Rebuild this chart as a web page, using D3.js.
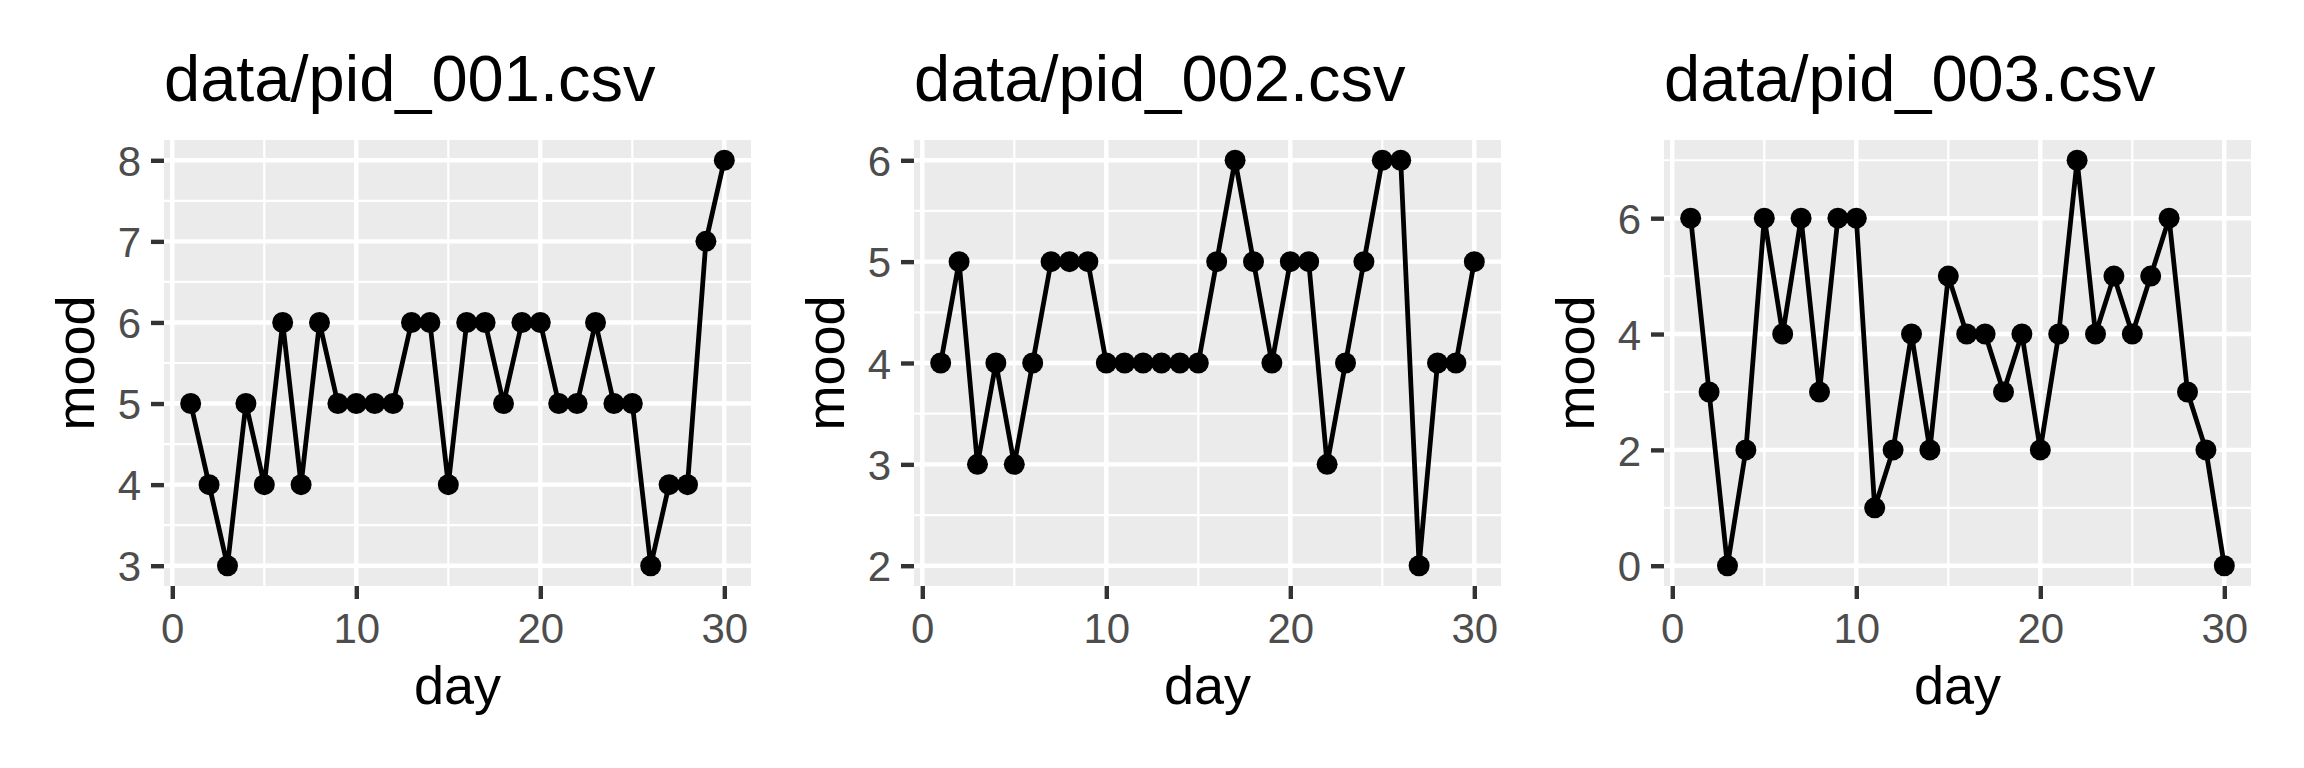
<!DOCTYPE html>
<html lang="en">
<head>
  <meta charset="UTF-8"/>
  <title>mood by day</title>
  <script src="https://d3js.org/d3.v7.min.js"></script>
  <style>
    body { margin: 0; background: #fff; }
    svg { display: block; }
    text { font-family: "Liberation Sans", Arial, sans-serif; }
  </style>
</head>
<body>
<svg id="chart" width="2304" height="768"></svg>
<script>
  const days = d3.range(1, 31);

  const mood001 = [5, 4, 3, 5, 4, 6, 4, 6, 5, 5, 5, 5, 6, 6, 4, 6, 6, 5, 6, 6, 5, 5, 6, 5, 5, 3, 4, 4, 7, 8];
  const mood002 = [4, 5, 3, 4, 3, 4, 5, 5, 5, 4, 4, 4, 4, 4, 4, 5, 6, 5, 4, 5, 5, 3, 4, 5, 6, 6, 2, 4, 4, 5];
  const mood003 = [6, 3, 0, 2, 6, 4, 6, 3, 6, 6, 1, 2, 4, 2, 5, 4, 4, 3, 4, 2, 4, 7, 4, 5, 4, 5, 6, 3, 2, 0];

  const titles = ['data/pid_001.csv', 'data/pid_002.csv', 'data/pid_003.csv'];
  const xTicks = [0, 10, 20, 30];
  const yTicks001 = [3, 4, 5, 6, 7, 8];
  const yTicks002 = [2, 3, 4, 5, 6];
  const yTicks003 = [0, 2, 4, 6];

  const panels = [
    { title: titles[0], values: mood001, ticks: yTicks001 },
    { title: titles[1], values: mood002, ticks: yTicks002 },
    { title: titles[2], values: mood003, ticks: yTicks003 }
  ];

  const svg = d3.select('#chart');

  // panel geometry (patchwork style: equal panels, 750px apart)
  const panelW = 587;
  const panelTop = 140;
  const panelBottom = 586;
  const firstLeft = 164;
  const step = 750;

  // ggplot-like 5% expansion
  const expand = (lo, hi) => { const d = (hi - lo) * 0.05; return [lo - d, hi + d]; };

  // minor breaks at midpoints of the majors, kept inside the range
  const minors = (ticks, dom) => {
    const st = ticks[1] - ticks[0];
    const out = [];
    for (let v = ticks[0] - st / 2; v <= dom[1]; v += st) {
      if (v >= dom[0] && v <= dom[1]) out.push(v);
    }
    return out;
  };

  panels.forEach((p, i) => {
    const left = firstLeft + i * step;
    const g = svg.append('g');

    const x = d3.scaleLinear()
      .domain(expand(d3.min(days), d3.max(days)))
      .range([left, left + panelW]);

    const y = d3.scaleLinear()
      .domain(expand(d3.min(p.values), d3.max(p.values)))
      .range([panelBottom, panelTop]);

    // background
    g.append('rect')
      .attr('x', left)
      .attr('y', panelTop)
      .attr('width', panelW)
      .attr('height', panelBottom - panelTop)
      .attr('fill', '#EBEBEB');

    // minor grid
    g.selectAll('.xminor')
      .data(minors(xTicks, x.domain()))
      .enter().append('line')
      .attr('x1', d => x(d)).attr('x2', d => x(d))
      .attr('y1', panelTop).attr('y2', panelBottom)
      .attr('stroke', '#fff').attr('stroke-width', 2.2);

    g.selectAll('.yminor')
      .data(minors(p.ticks, y.domain()))
      .enter().append('line')
      .attr('x1', left).attr('x2', left + panelW)
      .attr('y1', d => y(d)).attr('y2', d => y(d))
      .attr('stroke', '#fff').attr('stroke-width', 2.2);

    // major grid
    g.selectAll('.xmajor')
      .data(xTicks)
      .enter().append('line')
      .attr('x1', d => x(d)).attr('x2', d => x(d))
      .attr('y1', panelTop).attr('y2', panelBottom)
      .attr('stroke', '#fff').attr('stroke-width', 4.4);

    g.selectAll('.ymajor')
      .data(p.ticks)
      .enter().append('line')
      .attr('x1', left).attr('x2', left + panelW)
      .attr('y1', d => y(d)).attr('y2', d => y(d))
      .attr('stroke', '#fff').attr('stroke-width', 4.4);

    // axes
    const xAxis = g.append('g')
      .attr('transform', `translate(0, ${panelBottom})`)
      .call(d3.axisBottom(x).tickValues(xTicks).tickFormat(d3.format('d')).tickSize(13).tickPadding(14));

    const yAxis = g.append('g')
      .attr('transform', `translate(${left}, 0)`)
      .call(d3.axisLeft(y).tickValues(p.ticks).tickFormat(d3.format('d')).tickSize(13).tickPadding(10));

    [xAxis, yAxis].forEach(a => {
      a.select('.domain').remove();
      a.selectAll('.tick line').attr('stroke', '#333333').attr('stroke-width', 4.4);
      a.selectAll('.tick text')
        .attr('fill', '#4D4D4D')
        .style('font-size', '42px')
        .style('font-family', '"Liberation Sans", Arial, sans-serif');
    });
    xAxis.selectAll('.tick text').attr('dy', '0.71em');
    yAxis.selectAll('.tick text').attr('dy', '0.36em');

    // line + points
    const pts = days.map((d, k) => ({ day: d, mood: p.values[k] }));

    g.append('path')
      .datum(pts)
      .attr('fill', 'none')
      .attr('stroke', '#000')
      .attr('stroke-width', 4.8)
      .attr('stroke-linejoin', 'round')
      .attr('d', d3.line().x(d => x(d.day)).y(d => y(d.mood)));

    g.selectAll('.pt')
      .data(pts)
      .enter().append('circle')
      .attr('cx', d => x(d.day))
      .attr('cy', d => y(d.mood))
      .attr('r', 10.5)
      .attr('fill', '#000');

    // titles
    g.append('text')
      .attr('x', left)
      .attr('y', 101)
      .style('font-size', '65px')
      .attr('fill', '#000')
      .text(p.title);

    g.append('text')
      .attr('x', left + panelW / 2)
      .attr('y', 704)
      .attr('text-anchor', 'middle')
      .style('font-size', '54px')
      .attr('fill', '#000')
      .text('day');

    g.append('text')
      .attr('transform', `translate(${left - 70}, ${(panelTop + panelBottom) / 2}) rotate(-90)`)
      .attr('text-anchor', 'middle')
      .style('font-size', '54px')
      .attr('fill', '#000')
      .text('mood');
  });
</script>
</body>
</html>
